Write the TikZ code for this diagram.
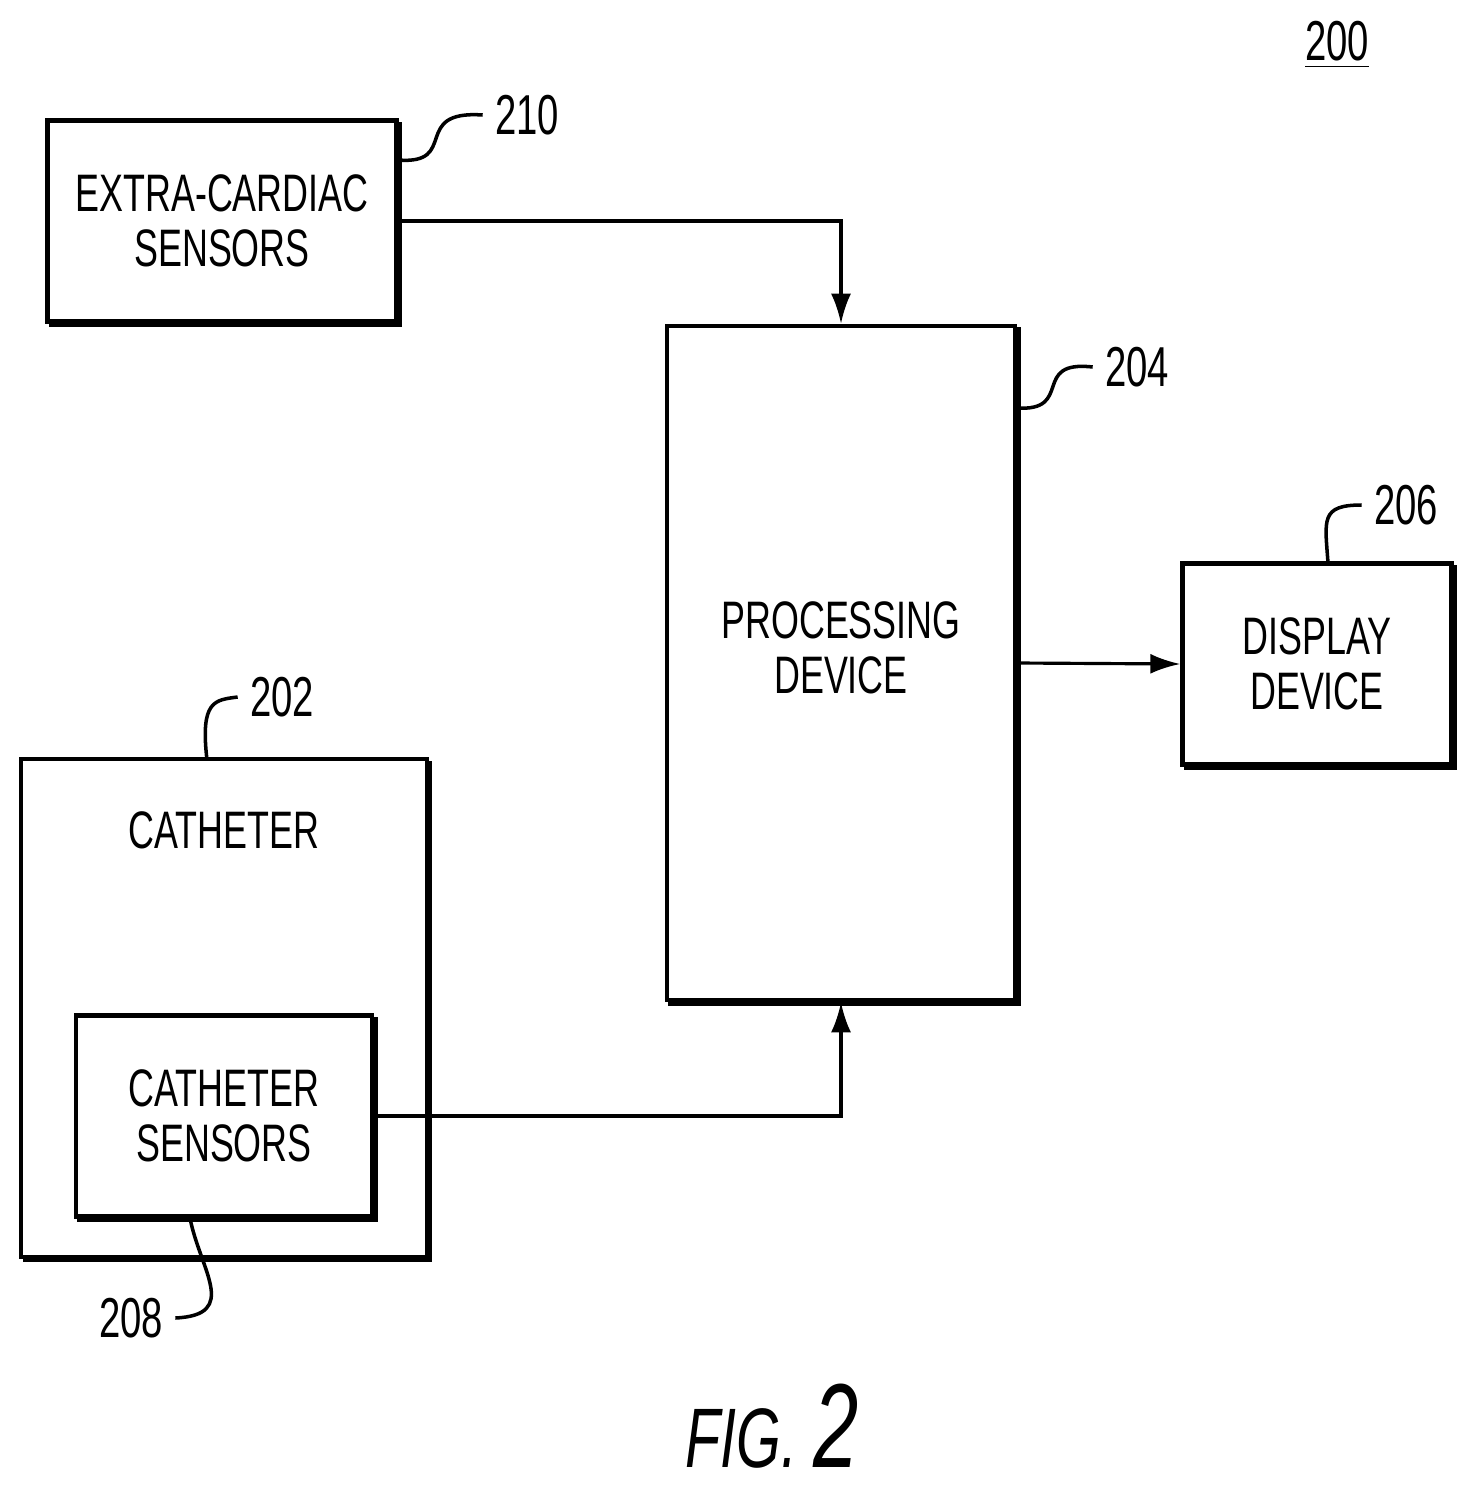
\documentclass[tikz,border=0pt]{standalone}
\usepackage{fontspec}
\setmainfont[FakeStretch=0.68]{Liberation Sans}
\usetikzlibrary{shadows,arrows.meta}
\tikzset{
  blk/.style={draw, line width=1.2pt, fill=white, align=center, inner sep=0pt,
    copy shadow={shadow xshift=0.035cm, shadow yshift=-0.035cm},
    font=\fontsize{15}{15.5}\selectfont},
  refnum/.style={font=\fontsize{16}{20}\selectfont},
  lead/.style={line width=1pt},
  conn/.style={line width=0.9pt, -{Latex[length=0.3cm, width=0.2cm]}}
}
\begin{document}
\begin{tikzpicture}[x=0.01cm, y=-0.01cm]
  \useasboundingbox (0,0) rectangle (1478,1491);

  \node (ecs) at (222,221) [blk, minimum width=3.49cm, minimum height=2.01cm]{EXTRA-CARDIAC\\SENSORS};
  \node (proc) at (841,663) [blk, minimum width=3.48cm, minimum height=6.74cm]{};
  \node (proclbl) at (841,648) [font=\fontsize{15}{15.5}\selectfont, align=center]{PROCESSING\\DEVICE};
  \node (disp) at (1317,664) [blk, minimum width=2.69cm, minimum height=2.01cm]{DISPLAY\\DEVICE};
  \node (cath) at (224,1008) [blk, minimum width=4.05cm, minimum height=4.97cm]{};
  \node (cathlbl) at (224,830) [font=\fontsize{15}{15.5}\selectfont]{CATHETER};
  \node (csens) at (224,1116) [blk, minimum width=2.96cm, minimum height=2.01cm]{CATHETER\\SENSORS};

  % connectors
  \draw[conn] (ecs.east) -| (proc.north);
  \draw[conn] (csens.east) -| (proc.south);
  \draw[conn] (proc.east) -- (disp.west);

  % reference numerals
  \node (n200) at (1337,45) [refnum]{\underline{200}};
  \node (n210) at (527,115) [refnum]{210};
  \node (n204) at (1137,367) [refnum]{204};
  \node (n206) at (1406,505) [refnum]{206};
  \node (n202) at (282,697) [refnum]{202};
  \node (n208) at (131,1318) [refnum]{208};
  \node (fig) at (772,1426) [font=\itshape\fontsize{24}{30}\selectfont]{FIG. {\fontsize{34}{38}\selectfont 2}};

  \coordinate (a210) at (398,160);
  \coordinate (a204) at (1016,408);
  \coordinate (a206) at (1328,563);
  \coordinate (a202) at (207,760);
  \coordinate (a208) at (190,1218);
  \draw[lead] (a210) .. controls (460,165) and (410,110) .. (n210.west);
  \draw[lead] (a204) .. controls (1075,412) and (1030,360) .. (n204.west);
  \draw[lead] (a206) .. controls (1325,520) and (1320,505) .. (n206.west);
  \draw[lead] (a202) .. controls (200,700) and (215,700) .. (n202.west);
  \draw[lead] (a208) .. controls (200,1270) and (240,1315) .. (n208.east);
\end{tikzpicture}
\end{document}
